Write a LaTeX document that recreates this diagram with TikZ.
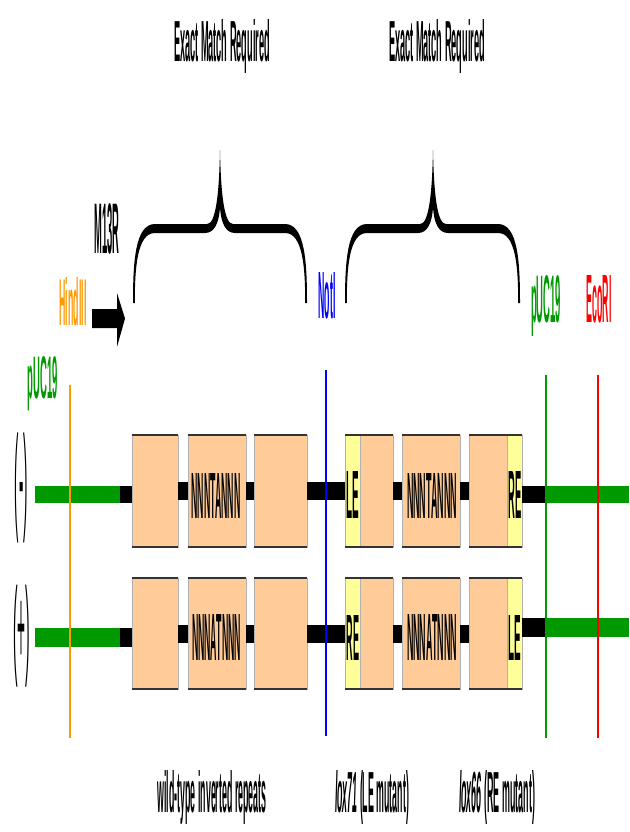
\documentclass[tikz,border=0pt]{standalone}
\usepackage{fontspec}
\setmainfont{Liberation Sans}
\definecolor{peach}{HTML}{FFCC99}
\definecolor{lyel}{HTML}{FFFF99}
\definecolor{dgreen}{HTML}{009900}
\definecolor{orng}{HTML}{FF9900}
\definecolor{capc}{HTML}{333333}
\newcommand\sqz[3]{\resizebox{#1pt}{#2pt}{#3}}
\newcommand\sqzt[3]{\resizebox*{#1pt}{#2pt}{#3}}
\tikzset{
  lbl/.style={inner sep=0pt, outer sep=0pt, anchor=base, font=\bfseries},
  seqbox/.style={fill=peach, draw=gray!60, line width=0.6pt, inner sep=0pt, outer sep=0pt},
  capln/.style={draw=capc, line width=2.2pt},
  dna/.style={fill=black},
  vec/.style={fill=dgreen},
  site/.style={line width=2pt},
  yel/.style={fill=lyel, draw=gray!60, line width=0.6pt},
}
% name, x1, x2, y1, y2
\newcommand\mkbox[5]{%
  \node[seqbox, minimum width={(#3-#2)*1pt}, minimum height={(#5-#4)*1pt}] (#1) at ({(#2+#3)/2},{(#4+#5)/2}) {};}
\newcommand\capit[1]{\draw[capln] (#1.north west) -- (#1.north east) (#1.south west) -- (#1.south east);}
% brace: left x, centre x, right x
\newcommand\mybrace[3]{%
  \fill (#1,303) .. controls (#1,262) and ({#1+2},224) .. ({#1+22},224)
    -- ({#2-13},224) .. controls ({#2-5},224) and ({#2-1},200) .. (#2,150)
    .. controls ({#2+1},200) and ({#2+5},224) .. ({#2+13},224)
    -- ({#3-22},224) .. controls ({#3-2},224) and (#3,262) .. (#3,303)
    -- ({#3-1.8},303) .. controls ({#3-1.8},268) and ({#3-4},233) .. ({#3-22},233)
    -- ({#2+15},233) .. controls ({#2+6},233) and ({#2+1},224) .. (#2,207)
    .. controls ({#2-1},224) and ({#2-6},233) .. ({#2-15},233)
    -- ({#1+22},233) .. controls ({#1+4},233) and ({#1+1.8},268) .. ({#1+1.8},303) -- cycle;}
\begin{document}
\begin{tikzpicture}[x=1pt,y=-1pt]
\useasboundingbox (0,0) rectangle (629,832);

% top labels
\node[lbl] (emr1) at (222,62) {\sqz{96}{42}{Exact Match Required}};
\node[lbl] (emr2) at (437,62) {\sqz{96}{42}{Exact Match Required}};
\mybrace{133}{220}{307}
\mybrace{345}{433}{520}

\node[lbl] (m13r) at (107,253) {\sqz{25}{50}{M13R}};
\fill (92,309) -- (117,309) -- (117,293) -- (125,318.5) -- (117,347) -- (117,328) -- (92,328) -- cycle;
\node[lbl, text=orng] (hind) at (73,325) {\sqz{27}{48}{HindIII}};
\node[lbl, text=blue] (noti) at (327,318) {\sqz{17}{46}{NotI}};
\node[lbl, text=dgreen] (pucr) at (546,322) {\sqz{30}{47}{pUC19}};
\node[lbl, text=red] (ecor) at (599,322) {\sqz{25}{47}{EcoRI}};
\node[lbl, text=dgreen] (pucl) at (43,398) {\sqz{30}{42}{pUC19}};

% strand labels
\node[inner sep=0pt] (minus) at (21.5,488) {\sqzt{13}{110}{(-)}};
\node[inner sep=0pt] (plus) at (21.5,636) {\sqzt{17}{102}{(+)}};

% ---------- top row (-) ----------
\fill[vec] (35,486) rectangle (120,503);
\fill[dna] (120,486) rectangle (132,503);
\mkbox{t1}{132}{178}{435}{547}
\mkbox{t2}{188}{246}{435}{547}
\mkbox{t3}{254}{307}{435}{547}
\mkbox{t4}{345}{393}{435}{547}
\mkbox{t5}{402}{460}{435}{547}
\mkbox{t6}{469}{522}{435}{547}
\filldraw[yel] (345,435) rectangle (360,547);
\filldraw[yel] (507,435) rectangle (522,547);
\foreach \a/\b in {t1/t2,t2/t3,t3/t4,t4/t5,t5/t6}
  \fill[dna] (\a.east |- 0,482) rectangle (\b.west |- 0,500);
\fill[dna] (t6.east |- 0,486) rectangle (546,503);
\fill[vec] (546,486) rectangle (629,503);
\foreach \b in {t1,t2,t3,t4,t5,t6} {\capit{\b}}
\node[lbl] at (216,518) {\sqz{49}{45}{NNNTANNN}};
\node[lbl] at (432,518) {\sqz{50}{45}{NNNTANNN}};
\node[lbl] at (353,518) {\sqz{12.6}{47}{LE}};
\node[lbl] at (515,518) {\sqz{13}{47}{RE}};

% ---------- bottom row (+) ----------
\fill[vec] (35,628) rectangle (120,647);
\fill[dna] (120,628) rectangle (132,647);
\mkbox{u1}{132}{178}{578}{689}
\mkbox{u2}{188}{246}{578}{689}
\mkbox{u3}{254}{307}{578}{689}
\mkbox{u4}{345}{393}{578}{689}
\mkbox{u5}{402}{460}{578}{689}
\mkbox{u6}{469}{522}{578}{689}
\filldraw[yel] (345,578) rectangle (360,689);
\filldraw[yel] (507,578) rectangle (522,689);
\foreach \a/\b in {u1/u2,u2/u3,u3/u4,u4/u5,u5/u6}
  \fill[dna] (\a.east |- 0,625) rectangle (\b.west |- 0,643);
\fill[dna] (u6.east |- 0,618) rectangle (546,637);
\fill[vec] (546,618) rectangle (629,637);
\foreach \b in {u1,u2,u3,u4,u5,u6} {\capit{\b}}
\node[lbl] at (216.5,660) {\sqz{49}{46}{NNNATNNN}};
\node[lbl] at (432,660) {\sqz{50}{46}{NNNATNNN}};
\node[lbl] at (353,660) {\sqz{12.6}{45}{RE}};
\node[lbl] at (515,660) {\sqz{12.6}{45}{LE}};

% restriction-site lines
\draw[site, orng] (70,385) -- (70,738);
\draw[site, blue] (326,370) -- (326,736);
\draw[site, dgreen] (546,375) -- (546,738);
\draw[site, red] (598,375) -- (598,738);

% bottom labels
\node[lbl] (wt) at (212,812) {\sqz{109}{42}{wild-type inverted repeats}};
\node[lbl] (l71) at (372,812) {\sqz{74}{42}{\textit{lox71} (LE mutant)}};
\node[lbl] (l66) at (497,812) {\sqz{76}{42}{\textit{lox66} (RE mutant)}};
\end{tikzpicture}
\end{document}
